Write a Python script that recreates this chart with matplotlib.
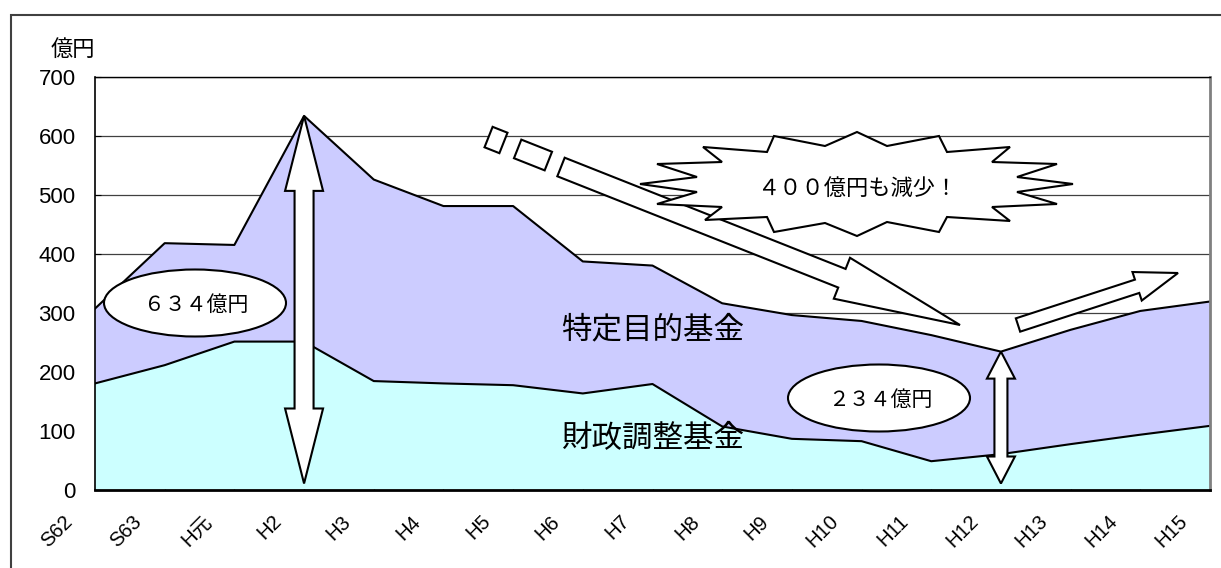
import numpy as np
import matplotlib
matplotlib.use('Agg')
import matplotlib.pyplot as plt
from matplotlib.patches import Polygon, Ellipse, Rectangle
from matplotlib.transforms import IdentityTransform, ScaledTranslation

plt.rcParams['font.family'] = ['Noto Sans CJK JP', 'DejaVu Sans']

# データ（億円）
years = ['S62', 'S63', 'H元', 'H2', 'H3', 'H4', 'H5', 'H6', 'H7', 'H8',
         'H9', 'H10', 'H11', 'H12', 'H13', 'H14', 'H15']
zaisei = [180, 211, 251, 251, 184, 180, 177, 163, 179, 107,
          86, 82, 48, 60, 77, 93, 108]          # 財政調整基金
tokutei = [127, 207, 164, 383, 342, 301, 304, 224, 201, 209,
           210, 204, 214, 174, 194, 210, 211]   # 特定目的基金
yticks = [0, 100, 200, 300, 400, 500, 600, 700]

W, H = 1221, 568
fig = plt.figure(figsize=(W / 100, H / 100), dpi=100)
ax = fig.add_axes([95 / W, (H - 489.5) / H, (1210 - 95) / W, (489.5 - 77) / H])

x = np.arange(len(years))
total = np.array(zaisei) + np.array(tokutei)
ax.stackplot(x, zaisei, tokutei, colors=['#ccffff', '#ccccff'], linewidth=0, zorder=1)
ax.plot(x, zaisei, color='black', lw=1.5, zorder=2)
ax.plot(x, total, color='black', lw=1.5, zorder=2)

ax.set_xlim(0, len(years) - 1)
ax.set_ylim(0, 700)
ax.set_yticks(yticks)
ax.set_xticks(x)
ax.yaxis.grid(True, color='#404040', lw=0.9)
ax.set_axisbelow(True)
ax.tick_params(direction='in', length=4.5, width=0.8, color='black')
ax.tick_params(axis='y', pad=14)
ax.tick_params(axis='x', pad=16)
ax.set_yticklabels([str(v) for v in yticks], family=['Liberation Sans', 'DejaVu Sans'], fontsize=16)
ax.set_xticklabels(years, family=['Liberation Sans', 'Noto Sans CJK JP'], fontsize=14.5,
                   rotation=45, ha='right')
for lab in ax.get_xticklabels():
    lab.set_transform(lab.get_transform() + ScaledTranslation(-0.19, 0, fig.dpi_scale_trans))

ax.spines['left'].set_linewidth(1.2)
ax.spines['bottom'].set_linewidth(2)
ax.spines['top'].set_linewidth(1)
ax.spines['right'].set_linewidth(2)
ax.spines['right'].set_color('#808080')

# 外枠
fig.add_artist(Rectangle((11, -30), 1400, H - 15 + 30, transform=IdentityTransform(),
                         fill=False, edgecolor='#404040', lw=1.5, zorder=0))

fig.text(73 / W, 1 - 49 / H, '億円', fontsize=16, ha='center', va='center')


def img(p):
    # 画像座標（左上原点）→ 表示座標
    return (p[0], H - p[1])


def data_px(xv, yv):
    return ax.transData.transform((xv, yv))


def arrow_poly(p0, p1, body, head_w, head_len, double=False):
    p0, p1 = np.array(p0, float), np.array(p1, float)
    d = p1 - p0
    u = d / np.hypot(*d)
    n = np.array([-u[1], u[0]])
    b1 = p1 - u * head_len
    pts = []
    if double:
        b0 = p0 + u * head_len
        pts += [p0, b0 + n * head_w / 2, b0 + n * body / 2]
    else:
        pts += [p0 + n * body / 2]
    pts += [b1 + n * body / 2, b1 + n * head_w / 2, p1, b1 - n * head_w / 2, b1 - n * body / 2]
    if double:
        pts += [b0 - n * body / 2, b0 - n * head_w / 2]
    else:
        pts += [p0 - n * body / 2]
    return np.array(pts)


def rect_poly(c, ang_p, length, width):
    c = np.array(c, float)
    u = np.array(ang_p, float)
    u = u / np.hypot(*u)
    n = np.array([-u[1], u[0]])
    return np.array([c - u * length / 2 + n * width / 2, c + u * length / 2 + n * width / 2,
                     c + u * length / 2 - n * width / 2, c - u * length / 2 - n * width / 2])


def add_shape(pts, z):
    fig.add_artist(Polygon(pts, closed=True, facecolor='white', edgecolor='black',
                           lw=1.5, transform=IdentityTransform(), zorder=z))


# 減少を示す矢印（破線風）
start, tip = np.array(img((561, 167))), np.array(img((960, 325)))
direc = tip - start
add_shape(rect_poly(img((496, 140)), direc, 16, 22), 2)
add_shape(rect_poly(img((533, 155)), direc, 33, 20), 2)
add_shape(arrow_poly(start, tip, 20, 44, 127), 2)

# 増加を示す矢印
add_shape(arrow_poly(img((1018, 325)), img((1178, 273)), 14, 30, 43), 2)

# 爆発形
star = [(857, 132), (887, 146), (939, 136), (947, 152), (1010, 147), (992, 162), (1057, 164),
        (1017, 177), (1073, 184), (1017, 192), (1057, 204), (992, 207), (1010, 221), (947, 217),
        (939, 232), (887, 222), (857, 236), (825, 223), (774, 232), (767, 217), (705, 220),
        (722, 207), (657, 204), (697, 192), (640, 184), (697, 177), (657, 164), (722, 162),
        (703, 147), (767, 152), (774, 136), (825, 146)]
add_shape(np.array([img(p) for p in star]), 3)
fig.text(857 / W, 1 - 188 / H, '４００億円も減少！', fontsize=16, ha='center', va='center', zorder=4)

# 両矢印（H2 と H12）
i2, i12 = years.index('H2'), years.index('H12')
p_bot = data_px(i2, 0) + np.array([0, 6])
p_top = data_px(i2, total[i2])
add_shape(arrow_poly(p_bot, p_top, 19, 38, 75, double=True), 3)
p_bot = data_px(i12, 0) + np.array([0, 6])
p_top = data_px(i12, total[i12])
add_shape(arrow_poly(p_bot, p_top, 13, 28, 27, double=True), 3)

# 楕円の吹き出し
for cx, cy, v in [(195, 303, total[i2]), (879, 398, total[i12])]:
    fig.add_artist(Ellipse(img((cx, cy)), 182, 67, facecolor='white', edgecolor='black',
                           lw=1.5, transform=IdentityTransform(), zorder=3))
    s = str(v).translate(str.maketrans('0123456789', '０１２３４５６７８９')) + '億円'
    fig.text((cx + 1) / W, 1 - (cy + 2) / H, s, fontsize=15, ha='center', va='center', zorder=4)

fig.text(653 / W, 1 - 330 / H, '特定目的基金', fontsize=22, ha='center', va='center', zorder=4)
fig.text(653 / W, 1 - 439 / H, '財政調整基金', fontsize=22, ha='center', va='center', zorder=4)

fig.savefig('out.png', dpi=100)
